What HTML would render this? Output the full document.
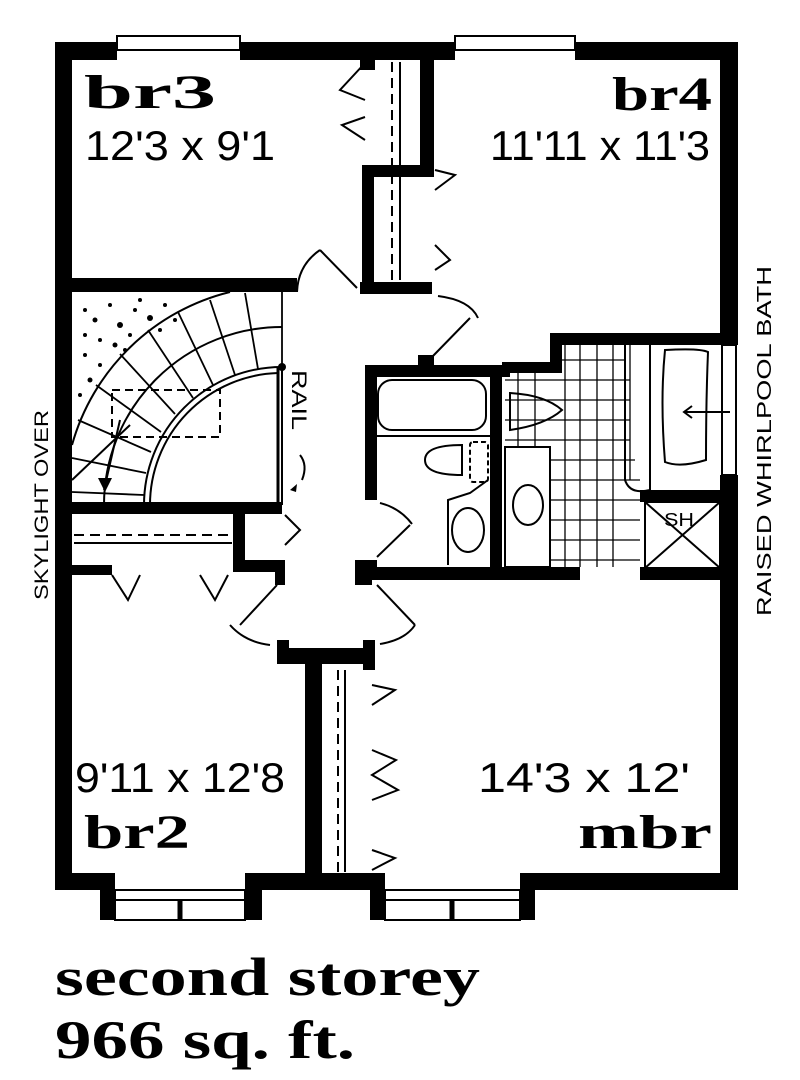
<!DOCTYPE html>
<html><head><style>
html,body{margin:0;padding:0;background:#fff;width:800px;height:1080px;overflow:hidden}
svg{display:block}
.s{font-family:"Liberation Serif",serif;font-weight:bold}
.d{font-family:"Liberation Sans",sans-serif}
</style></head><body>
<svg width="800" height="1080" viewBox="0 0 800 1080" xmlns="http://www.w3.org/2000/svg">
<g fill="#000">
<rect x="55" y="42" width="62" height="18"/>
<rect x="240" y="42" width="215" height="18"/>
<rect x="575" y="42" width="163" height="18"/>
<rect x="55" y="42" width="17" height="848"/>
<rect x="720" y="42" width="18" height="303"/>
<rect x="720" y="475" width="18" height="415"/>
<rect x="55" y="873" width="60" height="17"/>
<rect x="100" y="873" width="15" height="47"/>
<rect x="245" y="873" width="140" height="17"/>
<rect x="245" y="873" width="17" height="47"/>
<rect x="370" y="873" width="15" height="47"/>
<rect x="520" y="873" width="218" height="17"/>
<rect x="520" y="873" width="15" height="47"/>
<rect x="72" y="278" width="225" height="14"/>
<rect x="420" y="60" width="14" height="110"/>
<rect x="362" y="165" width="72" height="12"/>
<rect x="362" y="165" width="12" height="125"/>
<rect x="360" y="282" width="72" height="12"/>
<rect x="360" y="60" width="15" height="10"/>
<rect x="365" y="365" width="145" height="12"/>
<rect x="418" y="355" width="16" height="10"/>
<rect x="365" y="365" width="12" height="135"/>
<rect x="365" y="560" width="12" height="20"/>
<rect x="365" y="567" width="215" height="13"/>
<rect x="640" y="567" width="80" height="13"/>
<rect x="490" y="365" width="12" height="215"/>
<rect x="550" y="333" width="170" height="12"/>
<rect x="550" y="333" width="12" height="40"/>
<rect x="502" y="362" width="60" height="11"/>
<rect x="640" y="490" width="80" height="12"/>
<rect x="72" y="502" width="210" height="12"/>
<rect x="233" y="514" width="12" height="58"/>
<rect x="233" y="560" width="52" height="12"/>
<rect x="275" y="560" width="10" height="25"/>
<rect x="72" y="565" width="40" height="10"/>
<rect x="355" y="560" width="17" height="25"/>
<rect x="277" y="648" width="98" height="16"/>
<rect x="277" y="640" width="12" height="24"/>
<rect x="363" y="640" width="12" height="30"/>
<rect x="305" y="648" width="17" height="227"/>
</g>
<g fill="none" stroke="#000" stroke-width="2">
<rect x="117" y="36" width="123" height="14"/>
<rect x="455" y="36" width="120" height="14"/>
<rect x="115" y="890" width="130" height="30"/><line x1="115" y1="900" x2="245" y2="900"/><line x1="180" y1="900" x2="180" y2="920" stroke-width="5"/>
<rect x="385" y="890" width="135" height="30"/><line x1="385" y1="900" x2="520" y2="900"/><line x1="452" y1="900" x2="452" y2="920" stroke-width="5"/>
<rect x="722" y="345" width="14" height="130"/>
<line x1="392" y1="62" x2="392" y2="280" stroke-dasharray="10,6"/>
<line x1="400" y1="62" x2="400" y2="280"/>
<line x1="338" y1="670" x2="338" y2="872" stroke-dasharray="10,6"/>
<line x1="345" y1="670" x2="345" y2="872"/>
<line x1="74" y1="535" x2="232" y2="535" stroke-dasharray="10,6"/>
<line x1="74" y1="543" x2="232" y2="543"/>
<polyline points="365,63 340,90 365,100"/>
<polyline points="365,117 342,125 365,140"/>
<polyline points="435,170 455,175 435,190"/>
<polyline points="435,245 450,260 435,270"/>
<polyline points="112,575 128,600 140,575"/>
<polyline points="200,575 215,600 228,575"/>
<polyline points="285,515 300,530 285,545"/>
<polyline points="372,685 395,690 372,705"/>
<polyline points="372,750 396,760 372,775 398,790 372,800"/>
<polyline points="372,850 395,858 372,870"/>
<line x1="357" y1="288" x2="320" y2="250"/><path d="M320,250 Q298,265 297,292"/>
<line x1="432" y1="357" x2="470" y2="318"/><path d="M438,296 Q470,300 478,318"/>
<line x1="377" y1="557" x2="410" y2="525"/><path d="M380,503 Q400,508 412,524"/>
<line x1="377" y1="585" x2="415" y2="625"/><path d="M415,625 Q405,640 380,644"/>
<line x1="277" y1="585" x2="240" y2="625"/><path d="M230,625 Q245,642 270,645"/>
<path d="M282,367 A138,138 0 0 0 144,505"/>
<path d="M278,373 A132,132 0 0 0 150,505"/>
<path d="M282,327 A178,178 0 0 0 104,505"/>
<path d="M230,292 A218,218 0 0 0 72,445"/>
<line x1="278" y1="367" x2="278" y2="505" stroke-width="3"/>
<line x1="282" y1="367" x2="282" y2="505"/>
<g stroke-width="1.8">
<line x1="282" y1="367" x2="282" y2="292"/>
<line x1="258" y1="369" x2="245" y2="293"/>
<line x1="235" y1="375" x2="210" y2="300"/>
<line x1="213" y1="385" x2="178" y2="312"/>
<line x1="193" y1="398" x2="148" y2="330"/>
<line x1="175" y1="414" x2="120" y2="354"/>
<line x1="161" y1="432" x2="96" y2="385"/>
<line x1="151" y1="452" x2="78" y2="420"/>
<line x1="146" y1="473" x2="72" y2="458"/>
<line x1="144" y1="495" x2="72" y2="492"/>
</g>
<rect x="112" y="390" width="108" height="47" stroke-dasharray="8,5"/>
<line x1="72" y1="480" x2="130" y2="425"/>
<line x1="120" y1="420" x2="104" y2="490"/>
<rect x="378" y="380" width="108" height="50" rx="14"/>
<line x1="377" y1="436" x2="490" y2="436"/>
<path d="M462,445 Q425,445 425,460 Q425,475 462,475 Z"/>
<rect x="470" y="442" width="18" height="40" rx="3" stroke-dasharray="5,3"/>
<polyline points="488,480 470,493 448,500 448,565"/>
<ellipse cx="468" cy="530" rx="16" ry="22"/>
<path d="M510,393 Q545,395 562,410 Q545,425 510,430 Z"/>
<rect x="505" y="447" width="45" height="120"/>
<ellipse cx="528" cy="505" rx="15" ry="20"/>
<g stroke-width="1.3">
<line x1="505" y1="380" x2="630" y2="380"/><line x1="505" y1="400" x2="630" y2="400"/>
<line x1="505" y1="420" x2="630" y2="420"/><line x1="505" y1="440" x2="630" y2="440"/>
<line x1="550" y1="460" x2="635" y2="460"/><line x1="550" y1="480" x2="640" y2="480"/>
<line x1="550" y1="500" x2="640" y2="500"/><line x1="550" y1="520" x2="640" y2="520"/>
<line x1="550" y1="540" x2="640" y2="540"/><line x1="550" y1="560" x2="640" y2="560"/>
<line x1="518" y1="373" x2="518" y2="447"/><line x1="535" y1="373" x2="535" y2="447"/>
<line x1="565" y1="345" x2="565" y2="567"/><line x1="580" y1="345" x2="580" y2="567"/>
<line x1="597" y1="345" x2="597" y2="567"/><line x1="613" y1="345" x2="613" y2="567"/>
<line x1="562" y1="360" x2="625" y2="360"/>
<line x1="630" y1="345" x2="630" y2="480"/>
</g>
<path d="M625,345 L625,480 Q630,495 650,490 L650,345"/>
<path d="M665,350 Q700,348 708,352 Q706,400 706,460 Q680,468 665,462 Q660,400 665,350 Z"/>
<line x1="730" y1="412" x2="685" y2="412"/><polyline points="692,406 684,412 692,418"/>
<rect x="645" y="502" width="75" height="66"/>
<line x1="645" y1="502" x2="720" y2="568"/><line x1="720" y1="502" x2="645" y2="568"/>
<path d="M302,480 Q308,465 300,455"/>
</g>
<circle cx="282" cy="367" r="4"/>
<polygon points="98,478 112,478 105,492"/>
<polygon points="290,490 297,484 296,492"/>
<text x="664" y="526" class="d" font-size="18" fill="#000" textLength="30" lengthAdjust="spacingAndGlyphs">SH</text>
<g fill="#000">
<text x="84" y="108" class="s" font-size="48" textLength="132" lengthAdjust="spacingAndGlyphs">br3</text>
<text x="85" y="160" class="d" font-size="42" textLength="190" lengthAdjust="spacingAndGlyphs">12'3 x 9'1</text>
<text x="612" y="110" class="s" font-size="48" textLength="100" lengthAdjust="spacingAndGlyphs">br4</text>
<text x="490" y="160" class="d" font-size="42" textLength="220" lengthAdjust="spacingAndGlyphs">11'11 x 11'3</text>
<text x="75" y="792" class="d" font-size="42" textLength="210" lengthAdjust="spacingAndGlyphs">9'11 x 12'8</text>
<text x="84" y="848" class="s" font-size="48" textLength="106" lengthAdjust="spacingAndGlyphs">br2</text>
<text x="478" y="792" class="d" font-size="42" textLength="212" lengthAdjust="spacingAndGlyphs">14'3 x 12'</text>
<text x="578" y="848" class="s" font-size="48" textLength="134" lengthAdjust="spacingAndGlyphs">mbr</text>
<text x="55" y="995" class="s" font-size="54" textLength="425" lengthAdjust="spacingAndGlyphs">second storey</text>
<text x="55" y="1058" class="s" font-size="54" textLength="300" lengthAdjust="spacingAndGlyphs">966 sq. ft.</text>
<text transform="translate(48,600) rotate(-90)" class="d" font-size="19" textLength="190" lengthAdjust="spacingAndGlyphs">SKYLIGHT OVER</text>
<text transform="translate(771,616) rotate(-90)" class="d" font-size="20" textLength="350" lengthAdjust="spacingAndGlyphs">RAISED WHIRLPOOL BATH</text>
<text transform="translate(292,370) rotate(90)" class="d" font-size="21" textLength="60" lengthAdjust="spacingAndGlyphs">RAIL</text>
</g>
<g fill="#000">
<circle cx="85" cy="310" r="2"/><circle cx="95" cy="320" r="2.5"/><circle cx="110" cy="305" r="2"/><circle cx="120" cy="325" r="3"/><circle cx="135" cy="310" r="2"/><circle cx="150" cy="318" r="3"/><circle cx="165" cy="305" r="2"/><circle cx="100" cy="340" r="2"/><circle cx="115" cy="345" r="2.5"/><circle cx="130" cy="335" r="2"/><circle cx="85" cy="355" r="2"/><circle cx="90" cy="380" r="2.5"/><circle cx="100" cy="365" r="2"/><circle cx="80" cy="395" r="2"/><circle cx="140" cy="300" r="2"/><circle cx="175" cy="320" r="2"/><circle cx="160" cy="330" r="2"/><circle cx="85" cy="335" r="2"/><circle cx="125" cy="350" r="2"/>
</g>
</svg>
</body></html>
